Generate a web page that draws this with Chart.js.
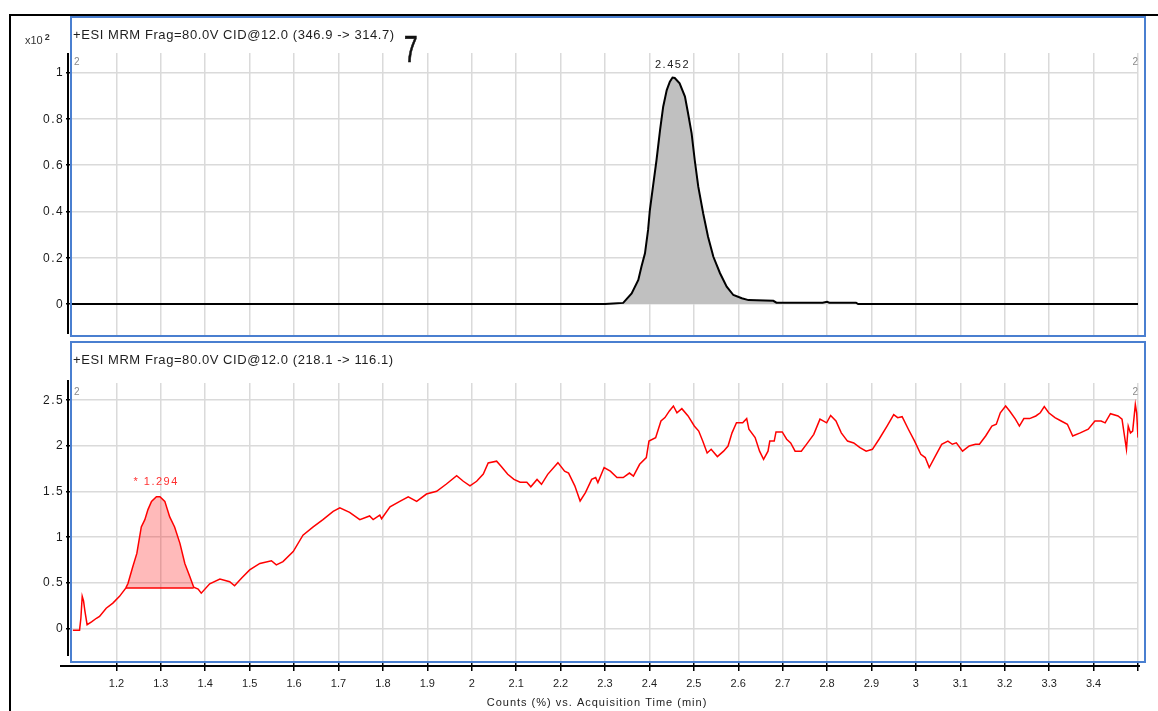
<!DOCTYPE html>
<html>
<head>
<meta charset="utf-8">
<script src="https://cdn.jsdelivr.net/npm/chart.js@4.4.1/dist/chart.umd.min.js"></script>
<style>
  html, body { margin: 0; padding: 0; background: #fff; }
  body { width: 1158px; height: 711px; position: relative; overflow: hidden;
         font-family: "Liberation Sans", Arial, sans-serif; }
  canvas { position: absolute; left: 0; }
  #c1 { top: 0; }
  #c2 { top: 340px; }
  .box { position: absolute; box-sizing: border-box; pointer-events: none; }
  #outer { left: 9px; top: 14px; width: 1200px; height: 760px;
           border-top: 2px solid #000; border-left: 2px solid #000; }
  .panel { left: 70px; width: 1076px; border: 2px solid #4a7fd0; }
  #p1 { top: 16px; height: 321px; }
  #p2 { top: 341px; height: 322px; }
  .title { position: absolute; left: 73px; font-size: 13px; line-height: 15px;
           color: #1e1e1e; letter-spacing: 0.57px; white-space: nowrap; }
  #t1 { top: 27px; }
  #t2 { top: 352px; }
  #mult { position: absolute; left: 25px; top: 31px; font-size: 11px; line-height: 13px; color: #333; }
  #mult sup { font-size: 9px; font-weight: bold; vertical-align: 4px; margin-left: 2px; }
  #seven { position: absolute; left: 404px; top: 32px; font-size: 36px; line-height: 36px;
           color: #111; -webkit-text-stroke: 0.7px #111;
           transform: scaleX(0.68); transform-origin: left top; }
</style>
</head>
<body>
<canvas id="c1" width="1158" height="340"></canvas>
<canvas id="c2" width="1158" height="371"></canvas>
<div class="box" id="outer"></div>
<div class="box panel" id="p1"></div>
<div class="box panel" id="p2"></div>
<div class="title" id="t1">+ESI MRM Frag=80.0V CID@12.0 (346.9 -&gt; 314.7)</div>
<div class="title" id="t2">+ESI MRM Frag=80.0V CID@12.0 (218.1 -&gt; 116.1)</div>
<div id="mult">x10<sup>2</sup></div>
<div id="seven">7</div>

<script>
// ---- Acquisition time axis ----
const xTicks = [1.2, 1.3, 1.4, 1.5, 1.6, 1.7, 1.8, 1.9, 2.0, 2.1, 2.2, 2.3,
                2.4, 2.5, 2.6, 2.7, 2.8, 2.9, 3.0, 3.1, 3.2, 3.3, 3.4, 3.5];
const xTickLabels = ['1.2', '1.3', '1.4', '1.5', '1.6', '1.7', '1.8', '1.9', '2', '2.1', '2.2', '2.3',
                     '2.4', '2.5', '2.6', '2.7', '2.8', '2.9', '3', '3.1', '3.2', '3.3', '3.4', ''];
const xAxisTitle = 'Counts (%) vs. Acquisition Time (min)';

// ---- Upper trace: 346.9 -> 314.7 ----
const topYTicks = [0, 0.2, 0.4, 0.6, 0.8, 1];
const topYLabels = ['0', '0.2', '0.4', '0.6', '0.8', '1'];
const topTime = [1.1, 2.300, 2.3185, 2.341, 2.360, 2.375, 2.382, 2.390, 2.397, 2.401, 2.408,
                 2.416, 2.424, 2.431, 2.439, 2.446, 2.452, 2.457, 2.468, 2.480, 2.487, 2.495,
                 2.502, 2.510, 2.521, 2.532, 2.544, 2.559, 2.574, 2.589, 2.608, 2.623, 2.679,
                 2.686, 2.790, 2.800, 2.805, 2.810, 2.865, 2.870, 3.5];
const topSignal = [0, 0, 0.002, 0.005, 0.046, 0.104, 0.161, 0.219, 0.320, 0.406, 0.507,
                   0.622, 0.752, 0.852, 0.924, 0.960, 0.978, 0.976, 0.953, 0.896, 0.824, 0.737,
                   0.622, 0.507, 0.392, 0.291, 0.204, 0.133, 0.075, 0.039, 0.025, 0.017, 0.014,
                   0.006, 0.006, 0.010, 0.006, 0.006, 0.006, 0, 0];
const topPeak = { rt: 2.452, label: '2.452', start: 2.3185, end: 2.686 };

// ---- Lower trace: 218.1 -> 116.1 ----
const botYTicks = [0, 0.5, 1, 1.5, 2, 2.5];
const botYLabels = ['0', '0.5', '1', '1.5', '2', '2.5'];
const botTime = [1.102, 1.117, 1.120, 1.123, 1.126, 1.129, 1.134, 1.144, 1.155, 1.162, 1.177,
  1.192, 1.207, 1.221, 1.226, 1.237, 1.246, 1.256, 1.264, 1.271, 1.279, 1.290, 1.298, 1.309,
  1.320, 1.331, 1.343, 1.354, 1.365, 1.374, 1.384, 1.391, 1.410, 1.433, 1.455, 1.466, 1.482,
  1.500, 1.523, 1.549, 1.560, 1.575, 1.598, 1.620, 1.643, 1.665, 1.688, 1.703, 1.725, 1.748,
  1.770, 1.778, 1.793, 1.797, 1.816, 1.838, 1.857, 1.876, 1.898, 1.921, 1.943, 1.966, 1.981,
  1.996, 2.011, 2.026, 2.037, 2.056, 2.067, 2.081, 2.095, 2.109, 2.124, 2.133, 2.147, 2.157,
  2.171, 2.194, 2.209, 2.218, 2.232, 2.244, 2.256, 2.270, 2.279, 2.284, 2.298, 2.312, 2.327,
  2.341, 2.355, 2.364, 2.378, 2.393, 2.399, 2.414, 2.426, 2.435, 2.445, 2.454, 2.462, 2.473,
  2.487, 2.501, 2.511, 2.520, 2.530, 2.539, 2.553, 2.567, 2.577, 2.586, 2.596, 2.610, 2.619,
  2.624, 2.638, 2.648, 2.657, 2.667, 2.671, 2.681, 2.685, 2.699, 2.709, 2.718, 2.728, 2.742,
  2.756, 2.770, 2.784, 2.799, 2.808, 2.820, 2.832, 2.846, 2.860, 2.874, 2.888, 2.902, 2.917,
  2.935, 2.950, 2.959, 2.969, 2.983, 2.997, 3.011, 3.021, 3.030, 3.044, 3.058, 3.072, 3.082,
  3.091, 3.105, 3.120, 3.134, 3.143, 3.157, 3.171, 3.181, 3.190, 3.202, 3.211, 3.224, 3.233,
  3.243, 3.256, 3.270, 3.280, 3.289, 3.299, 3.313, 3.327, 3.341, 3.353, 3.370, 3.388, 3.403,
  3.417, 3.426, 3.438, 3.455, 3.464, 3.474, 3.478, 3.483, 3.488, 3.494, 3.497, 3.500];
const botSignal = [-0.02, -0.02, 0.11, 0.35, 0.30, 0.19, 0.04, 0.07, 0.11, 0.13, 0.22,
  0.276, 0.35, 0.44, 0.49, 0.676, 0.82, 1.11, 1.19, 1.30, 1.39, 1.44, 1.44, 1.39,
  1.22, 1.11, 0.93, 0.71, 0.57, 0.45, 0.43, 0.385, 0.487, 0.54, 0.51, 0.465, 0.55,
  0.64, 0.71, 0.74, 0.695, 0.73, 0.84, 1.02, 1.11, 1.19, 1.28, 1.32, 1.27, 1.19,
  1.23, 1.19, 1.24, 1.20, 1.33, 1.39, 1.44, 1.39, 1.47, 1.50, 1.58, 1.67, 1.61,
  1.56, 1.61, 1.69, 1.81, 1.83, 1.77, 1.686, 1.63, 1.60, 1.60, 1.55, 1.63, 1.577,
  1.686, 1.814, 1.72, 1.70, 1.56, 1.394, 1.485, 1.63, 1.65, 1.595, 1.76, 1.72, 1.65,
  1.65, 1.70, 1.667, 1.796, 1.87, 2.05, 2.088, 2.27, 2.307, 2.38, 2.434, 2.36, 2.405,
  2.325, 2.215, 2.16, 2.05, 1.92, 1.96, 1.88, 1.94, 1.996, 2.14, 2.25, 2.25, 2.296,
  2.18, 2.088, 1.94, 1.85, 1.94, 2.05, 2.05, 2.15, 2.15, 2.07, 2.03, 1.94, 1.94,
  2.03, 2.124, 2.29, 2.25, 2.33, 2.27, 2.14, 2.05, 2.03, 1.978, 1.94, 1.96, 2.07,
  2.215, 2.34, 2.307, 2.317, 2.18, 2.05, 1.905, 1.87, 1.76, 1.887, 2.015, 2.05, 2.015,
  2.03, 1.94, 1.996, 2.015, 2.015, 2.106, 2.215, 2.234, 2.36, 2.434, 2.38, 2.29, 2.215,
  2.296, 2.296, 2.325, 2.36, 2.427, 2.36, 2.307, 2.27, 2.234, 2.106, 2.14, 2.18, 2.27,
  2.27, 2.25, 2.35, 2.325, 2.29, 1.96, 2.215, 2.14, 2.16, 2.45, 2.36, 2.088];
const botPeak = { rt: 1.294, label: '* 1.294', start: 1.221, end: 1.374, base: 0.44 };

const FONT = '"Liberation Sans", Arial, sans-serif';

function points(times, values, from, to) {
  const out = [];
  times.forEach((t, i) => {
    if (t >= from && t <= to) out.push({ x: t, y: values[i] });
  });
  return out;
}
function apex(times, values, from, to) {
  return Math.max(...points(times, values, from, to).map(p => p.y));
}

// Axis lines, value labels, peak annotations and corner markers
const decor = {
  id: 'decor',
  afterDraw(chart, args, o) {
    const { ctx, chartArea: a, scales: { x, y } } = chart;
    ctx.save();
    ctx.strokeStyle = '#000';
    ctx.lineWidth = 2;
    ctx.beginPath();
    ctx.moveTo(a.left - 4, o.axisTop);
    ctx.lineTo(a.left - 4, o.axisBottom);
    ctx.stroke();

    // intensity labels
    ctx.fillStyle = '#1a1a1a';
    ctx.font = '12px ' + FONT;
    ctx.letterSpacing = '1.4px';
    ctx.textAlign = 'right';
    ctx.textBaseline = 'middle';
    o.yTicks.forEach((v, i) => ctx.fillText(o.yLabels[i], a.left - 8, y.getPixelForValue(v) + 0.5));

    if (o.baseAxis) {
      ctx.beginPath();
      ctx.moveTo(a.left - 12, a.bottom + 5);
      ctx.lineTo(a.right + 2, a.bottom + 5);
      ctx.stroke();
      ctx.fillStyle = '#222';
      ctx.font = '11px ' + FONT;
      ctx.letterSpacing = '1px';
      ctx.textAlign = 'center';
      ctx.fillText(xAxisTitle, o.titleX, a.bottom + 42);
    }
    // corner markers
    ctx.letterSpacing = '0px';
    ctx.fillStyle = '#8a8a8a';
    ctx.font = '10px ' + FONT;
    ctx.textBaseline = 'top';
    ctx.textAlign = 'left';
    ctx.fillText('2', a.left + 2, a.top + 4);
    ctx.textAlign = 'right';
    ctx.fillText('2', a.right, a.top + 4);
    // peak label
    const pk = o.peak;
    const top = apex(o.times, o.values, pk.start, pk.end);
    ctx.fillStyle = o.labelColor;
    ctx.font = '11px ' + FONT;
    ctx.letterSpacing = '1.5px';
    ctx.textAlign = 'center';
    ctx.textBaseline = 'middle';
    ctx.fillText(pk.label, x.getPixelForValue(pk.rt) + o.labelShift, y.getPixelForValue(top) - o.labelLift);
    ctx.restore();
  }
};

function xScale(showLabels) {
  return {
    type: 'linear', min: 1.1, max: 3.5,
    afterBuildTicks: s => { s.ticks = xTicks.map(v => ({ value: v })); },
    afterFit: s => { s.height = showLabels ? 50 : 0; },
    border: { display: false },
    grid: { color: '#dadada', lineWidth: 1.5, drawTicks: showLabels, tickLength: 10,
            tickColor: '#000', tickWidth: 1.5 },
    ticks: { display: showLabels, padding: 6, color: '#1e1e1e', font: { family: FONT, size: 11 },
             maxRotation: 0, autoSkip: false,
             callback: (v, i) => xTickLabels[i] }
  };
}
function yScale(min, max, ticks) {
  return {
    type: 'linear', min, max,
    afterBuildTicks: s => { s.ticks = ticks.map(v => ({ value: v })); },
    afterFit: s => { s.width = 72; },
    border: { display: false },
    grid: { color: '#dadada', lineWidth: 1.5, drawTicks: true, tickLength: 6,
            tickColor: '#000', tickWidth: 1.5 },
    ticks: { display: false }
  };
}

const common = {
  responsive: false, animation: false, devicePixelRatio: 1,
  elements: { point: { radius: 0 }, line: { tension: 0 } },
};

new Chart(document.getElementById('c1'), {
  type: 'line',
  data: {
    datasets: [
      { data: points(topTime, topSignal, topPeak.start, topPeak.end), fill: 'origin',
        backgroundColor: '#c0c0c0', borderWidth: 0, order: 2 },
      { data: points(topTime, topSignal, -Infinity, Infinity), borderColor: '#000',
        borderWidth: 2, fill: false, order: 1 }
    ]
  },
  options: {
    ...common,
    layout: { padding: { left: 0, right: 20, top: 53, bottom: 4 } },
    scales: { x: xScale(false), y: yScale(-0.138, 1.084, topYTicks) },
    plugins: {
      legend: { display: false }, tooltip: { enabled: false },
      decor: { axisTop: 53, axisBottom: 334, baseAxis: false, peak: topPeak,
               yTicks: topYTicks, yLabels: topYLabels,
               times: topTime, values: topSignal, labelColor: '#222', labelShift: 0, labelLift: 13 }
    }
  },
  plugins: [decor]
});

new Chart(document.getElementById('c2'), {
  type: 'line',
  data: {
    datasets: [
      { data: points(botTime, botSignal, botPeak.start, botPeak.end), fill: { value: botPeak.base },
        backgroundColor: 'rgba(255,0,0,0.27)', borderWidth: 0, order: 3 },
      { data: [{ x: botPeak.start, y: botPeak.base }, { x: botPeak.end, y: botPeak.base }],
        borderColor: '#ff0000', borderWidth: 1.5, fill: false, order: 2 },
      { data: points(botTime, botSignal, -Infinity, Infinity), borderColor: '#ff0000',
        borderWidth: 1.5, fill: false, order: 1 }
    ]
  },
  options: {
    ...common,
    layout: { padding: { left: 0, right: 20, top: 43, bottom: 0 } },
    scales: { x: xScale(true), y: yScale(-0.358, 2.686, botYTicks) },
    plugins: {
      legend: { display: false }, tooltip: { enabled: false },
      decor: { axisTop: 40, axisBottom: 316, baseAxis: true, titleX: 597, peak: botPeak,
               yTicks: botYTicks, yLabels: botYLabels,
               times: botTime, values: botSignal, labelColor: '#ff3030', labelShift: -2, labelLift: 15 }
    }
  },
  plugins: [decor]
});
</script>
</body>
</html>
